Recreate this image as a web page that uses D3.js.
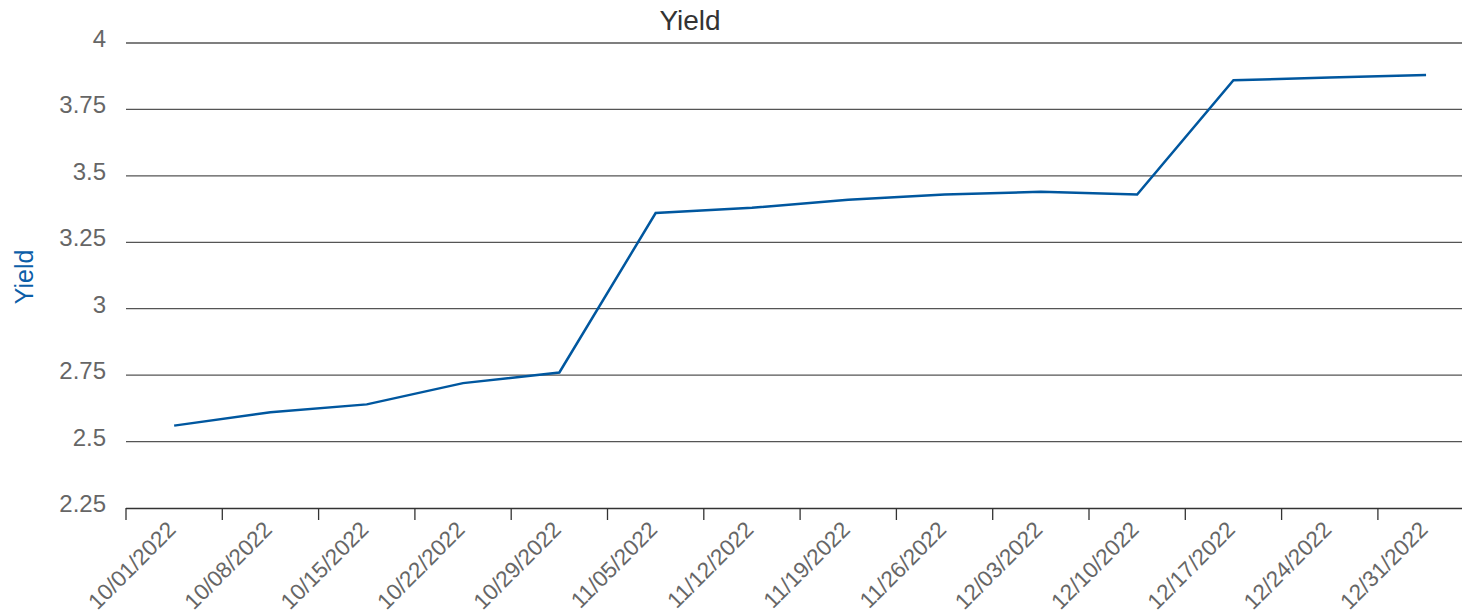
<!DOCTYPE html>
<html><head><meta charset="utf-8">
<script src="https://cdn.jsdelivr.net/npm/d3@7"></script>
<style>body{margin:0;background:#fff;}svg{display:block;font-family:"Liberation Sans",Arial,sans-serif;}</style>
</head><body>
<svg id="chart" width="1462" height="615"></svg>
<script>
const categories = ["10/01/2022","10/08/2022","10/15/2022","10/22/2022","10/29/2022","11/05/2022","11/12/2022","11/19/2022","11/26/2022","12/03/2022","12/10/2022","12/17/2022","12/24/2022","12/31/2022"];
const yieldValues = [2.56,2.61,2.64,2.72,2.76,3.36,3.38,3.41,3.43,3.44,3.43,3.86,3.87,3.88];
const yTicks = [2.25,2.5,2.75,3,3.25,3.5,3.75,4];

(function(){
const svg = d3.select("#chart");
const mLeft = 126, mTop = 43, mBottom = 508, plotRight = 1462;
const x = d3.scaleBand().domain(categories).range([mLeft, mLeft + 96.3*14]).padding(0);
const y = d3.scaleLinear().domain([2.25,4]).range([mBottom, mTop]);

// gridlines
svg.append("g").selectAll("line").data(yTicks.filter(d=>d>2.25)).join("line")
  .attr("x1", mLeft).attr("x2", plotRight)
  .attr("y1", d=>y(d)).attr("y2", d=>y(d))
  .attr("stroke", "#555").attr("stroke-width", 1.3);

// y tick labels
svg.append("g").selectAll("text").data(yTicks).join("text")
  .attr("x", 106).attr("y", d=>y(d)+4)
  .attr("text-anchor","end").attr("fill","#666").attr("font-size",24)
  .text(d=>d);

// x axis
const gx = svg.append("g").attr("transform",`translate(0,${mBottom})`);
gx.append("line").attr("x1",mLeft).attr("x2",plotRight).attr("y1",0.5).attr("y2",0.5).attr("stroke","#333").attr("stroke-width",1.3);
gx.selectAll("line.tk").data(categories).join("line").attr("class","tk")
  .attr("x1",d=>x(d)).attr("x2",d=>x(d)).attr("y1",0).attr("y2",12)
  .attr("stroke","#333").attr("stroke-width",1.3);
gx.selectAll("text.lbl").data(categories).join("text").attr("class","lbl")
  .attr("transform",d=>`translate(${x(d)+x.bandwidth()/2+3},${23}) rotate(-45)`)
  .attr("text-anchor","end").attr("fill","#666").attr("font-size",22.5)
  .text(d=>d);

// line
const line = d3.line().x((d,i)=>x(categories[i])+x.bandwidth()/2).y(d=>y(d));
svg.append("path").datum(yieldValues).attr("d",line)
  .attr("fill","none").attr("stroke","#00579f").attr("stroke-width",2.5).attr("stroke-linejoin","miter");

// title
svg.append("text").attr("x",690).attr("y",30).attr("text-anchor","middle")
  .attr("fill","#333").attr("font-size",28).text("Yield");
// y label
svg.append("text").attr("transform","translate(33,277) rotate(-90)").attr("text-anchor","middle")
  .attr("fill","#0b5ea8").attr("font-size",25).text("Yield");
})();
</script>
</body></html>
